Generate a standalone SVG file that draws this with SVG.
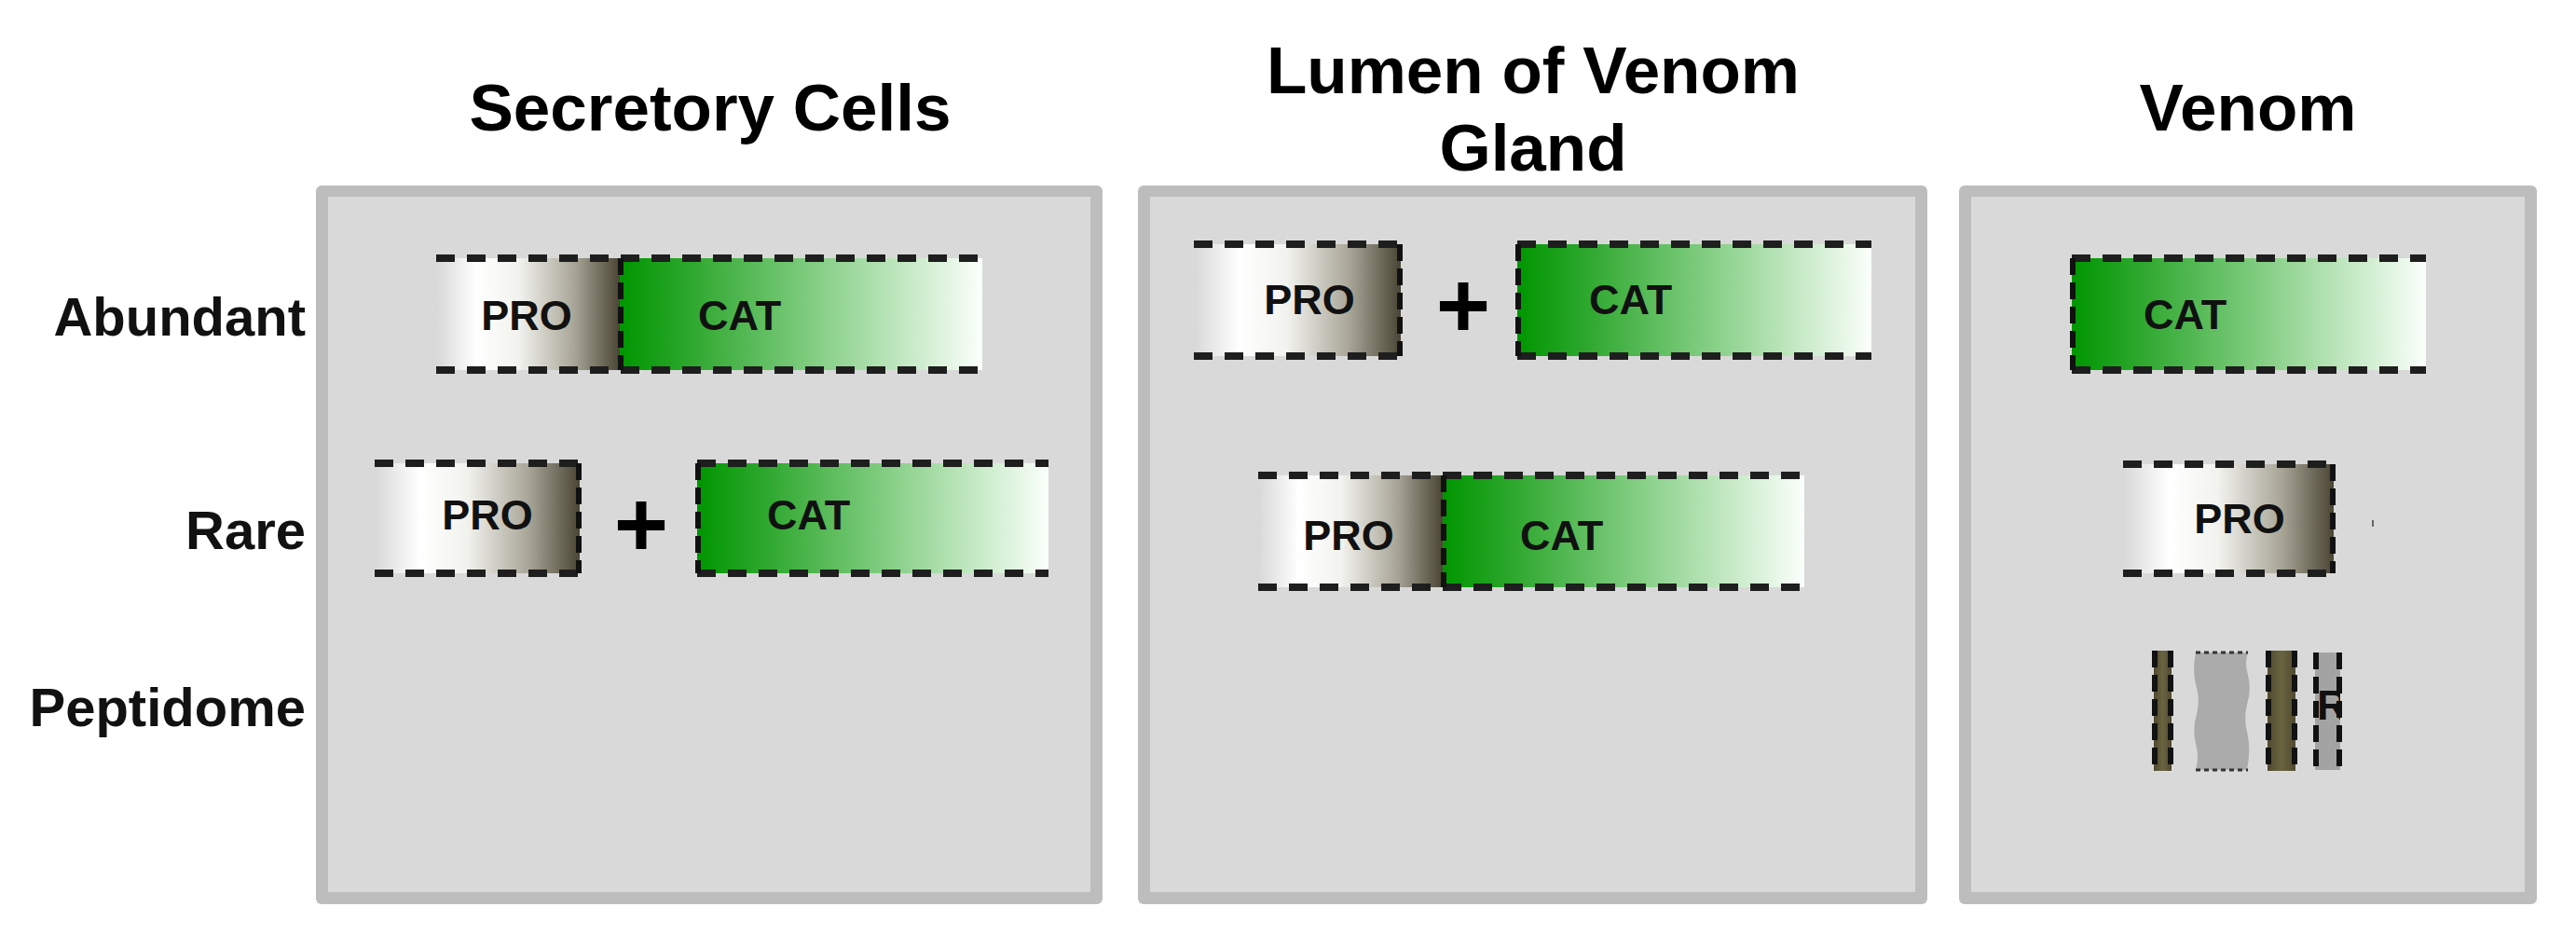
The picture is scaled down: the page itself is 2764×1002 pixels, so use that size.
<svg xmlns="http://www.w3.org/2000/svg" width="2764" height="1002" viewBox="0 0 2764 1002">
<defs>
<linearGradient id="gPro" x1="0" y1="0" x2="1" y2="0">
<stop offset="0" stop-color="#d8d8d8"/>
<stop offset="0.22" stop-color="#ffffff"/>
<stop offset="0.45" stop-color="#f2f2ee"/>
<stop offset="0.75" stop-color="#a9a698"/>
<stop offset="1" stop-color="#4a4534"/>
</linearGradient>
<linearGradient id="gCat" x1="0" y1="0" x2="1" y2="0">
<stop offset="0" stop-color="#009600"/>
<stop offset="0.2" stop-color="#2fa82f"/>
<stop offset="0.55" stop-color="#86cf86"/>
<stop offset="1" stop-color="#fbfffb"/>
</linearGradient>
<linearGradient id="gOlive" x1="0" y1="0" x2="1" y2="0">
<stop offset="0" stop-color="#4f4a30"/>
<stop offset="0.5" stop-color="#6a6440"/>
<stop offset="1" stop-color="#4f4a30"/>
</linearGradient>
<clipPath id="cpFrag"><rect x="2484" y="700" width="27" height="126"/></clipPath>
</defs>
<style>
.title{font-family:"Liberation Sans",Arial,sans-serif;font-weight:bold;font-size:71px;fill:#000;text-anchor:middle}
.label{font-family:"Liberation Sans",Arial,sans-serif;font-weight:bold;font-size:58px;fill:#111;text-anchor:end}
.seg{font-family:"Liberation Sans",Arial,sans-serif;font-weight:bold;font-size:45px;fill:#111}
.plus{font-family:"Liberation Sans",Arial,sans-serif;font-weight:bold;font-size:100px;fill:#000;text-anchor:middle}
.frame{fill:#bdbdbd}
.inner{fill:#d9d9d9}
.dash{stroke:#1e1e1e;stroke-width:8;stroke-dasharray:20 13;fill:none}
.vdash{stroke:#111;stroke-width:6;stroke-dasharray:18 8;fill:none}
.pro{fill:url(#gPro)}
.cat{fill:url(#gCat)}
</style>
<rect width="2764" height="1002" fill="#ffffff"/>

<g id="titles">
<text class="title" x="762" y="140">Secretory Cells</text>
<text class="title" x="1645" y="100">Lumen of Venom</text>
<text class="title" x="1645" y="183">Gland</text>
<text class="title" x="2412" y="140">Venom</text>
</g>

<g id="row-labels">
<text class="label" x="328" y="360">Abundant</text>
<text class="label" x="328" y="589">Rare</text>
<text class="label" x="328" y="779">Peptidome</text>
</g>

<g id="panel-secretory">
<rect class="frame" x="339" y="199" width="844" height="771" rx="6"/>
<rect class="inner" x="352" y="211" width="818" height="746"/>
</g>
<g id="panel-lumen">
<rect class="frame" x="1221" y="199" width="847" height="771" rx="6"/>
<rect class="inner" x="1234" y="211" width="821" height="746"/>
</g>
<g id="panel-venom">
<rect class="frame" x="2102" y="199" width="620" height="771" rx="6"/>
<rect class="inner" x="2115" y="211" width="594" height="746"/>
</g>

<!-- Secretory cells, abundant: PRO-CAT -->
<g id="sc-abundant">
<rect class="pro" x="468" y="277" width="197" height="120"/>
<rect class="cat" x="665" y="277" width="389" height="120"/>
<line class="dash" x1="468" y1="277" x2="1054" y2="277"/>
<line class="dash" x1="468" y1="397" x2="1054" y2="397"/>
<line class="vdash" x1="666" y1="277" x2="666" y2="397"/>
<text class="seg" x="565" y="354" text-anchor="middle">PRO</text>
<text class="seg" x="749" y="354">CAT</text>
</g>

<!-- Secretory cells, rare: PRO + CAT -->
<g id="sc-rare">
<rect class="pro" x="402" y="497" width="220" height="118"/>
<line class="dash" x1="402" y1="497" x2="622" y2="497"/>
<line class="dash" x1="402" y1="615" x2="622" y2="615"/>
<line class="vdash" x1="621" y1="497" x2="621" y2="615"/>
<text class="seg" x="523" y="568" text-anchor="middle">PRO</text>
<text class="plus" x="688" y="597">+</text>
<rect class="cat" x="748" y="497" width="377" height="118"/>
<line class="dash" x1="748" y1="497" x2="1125" y2="497"/>
<line class="dash" x1="748" y1="615" x2="1125" y2="615"/>
<line class="vdash" x1="749" y1="497" x2="749" y2="615"/>
<text class="seg" x="823" y="568">CAT</text>
</g>

<!-- Lumen, abundant: PRO + CAT -->
<g id="lu-abundant">
<rect class="pro" x="1281" y="262" width="222" height="120"/>
<line class="dash" x1="1281" y1="262" x2="1503" y2="262"/>
<line class="dash" x1="1281" y1="382" x2="1503" y2="382"/>
<line class="vdash" x1="1502" y1="262" x2="1502" y2="382"/>
<text class="seg" x="1405" y="337" text-anchor="middle">PRO</text>
<text class="plus" x="1570" y="362">+</text>
<rect class="cat" x="1628" y="262" width="380" height="120"/>
<line class="dash" x1="1628" y1="262" x2="2008" y2="262"/>
<line class="dash" x1="1628" y1="382" x2="2008" y2="382"/>
<line class="vdash" x1="1629" y1="262" x2="1629" y2="382"/>
<text class="seg" x="1705" y="337">CAT</text>
</g>

<!-- Lumen, rare: PRO-CAT -->
<g id="lu-rare">
<rect class="pro" x="1350" y="510" width="198" height="120"/>
<rect class="cat" x="1548" y="510" width="388" height="120"/>
<line class="dash" x1="1350" y1="510" x2="1936" y2="510"/>
<line class="dash" x1="1350" y1="630" x2="1936" y2="630"/>
<line class="vdash" x1="1549" y1="510" x2="1549" y2="630"/>
<text class="seg" x="1447" y="590" text-anchor="middle">PRO</text>
<text class="seg" x="1631" y="590">CAT</text>
</g>

<!-- Venom, abundant: CAT -->
<g id="ve-abundant">
<rect class="cat" x="2223" y="277" width="380" height="120"/>
<line class="dash" x1="2223" y1="277" x2="2603" y2="277"/>
<line class="dash" x1="2223" y1="397" x2="2603" y2="397"/>
<line class="vdash" x1="2224" y1="277" x2="2224" y2="397"/>
<text class="seg" x="2300" y="353">CAT</text>
</g>

<!-- Venom, rare: PRO -->
<g id="ve-rare">
<rect class="pro" x="2278" y="498" width="226" height="117"/>
<line class="dash" x1="2278" y1="498" x2="2504" y2="498"/>
<line class="dash" x1="2278" y1="615" x2="2504" y2="615"/>
<line class="vdash" x1="2503" y1="498" x2="2503" y2="615"/>
<text class="seg" x="2403" y="572" text-anchor="middle">PRO</text>
<rect x="2545" y="558" width="2" height="7" fill="#666"/>
</g>

<!-- Venom, peptidome fragments -->
<g id="ve-peptidome">
<rect x="2311" y="698" width="19" height="129" fill="url(#gOlive)"/>
<line class="vdash" x1="2312" y1="698" x2="2312" y2="827" stroke-width="4"/>
<line class="vdash" x1="2329" y1="698" x2="2329" y2="827" stroke-width="4"/>
<path d="M2356 700 H2412 Q2408 712 2412 724 Q2416 740 2411 756 Q2407 772 2412 790 Q2415 806 2411 826 H2356 Q2360 812 2356 798 Q2352 782 2357 766 Q2361 750 2356 734 Q2352 718 2356 700 Z" fill="#ababab"/>
<line stroke="#333" stroke-width="3" stroke-dasharray="5 4" x1="2356" y1="700" x2="2412" y2="700"/>
<line stroke="#333" stroke-width="3" stroke-dasharray="5 4" x1="2356" y1="826" x2="2412" y2="826"/>
<rect x="2433" y="698" width="30" height="129" fill="url(#gOlive)"/>
<line class="vdash" x1="2434" y1="698" x2="2434" y2="827" stroke-width="4"/>
<line class="vdash" x1="2462" y1="698" x2="2462" y2="827" stroke-width="4"/>
<rect x="2484" y="700" width="27" height="126" fill="#a3a3a3"/>
<line class="vdash" x1="2485" y1="700" x2="2485" y2="826" stroke-width="3"/>
<line class="vdash" x1="2510" y1="700" x2="2510" y2="826" stroke-width="3"/>
<text class="seg" x="2486" y="772" font-size="38" clip-path="url(#cpFrag)" fill="#333">R</text>
</g>
</svg>
